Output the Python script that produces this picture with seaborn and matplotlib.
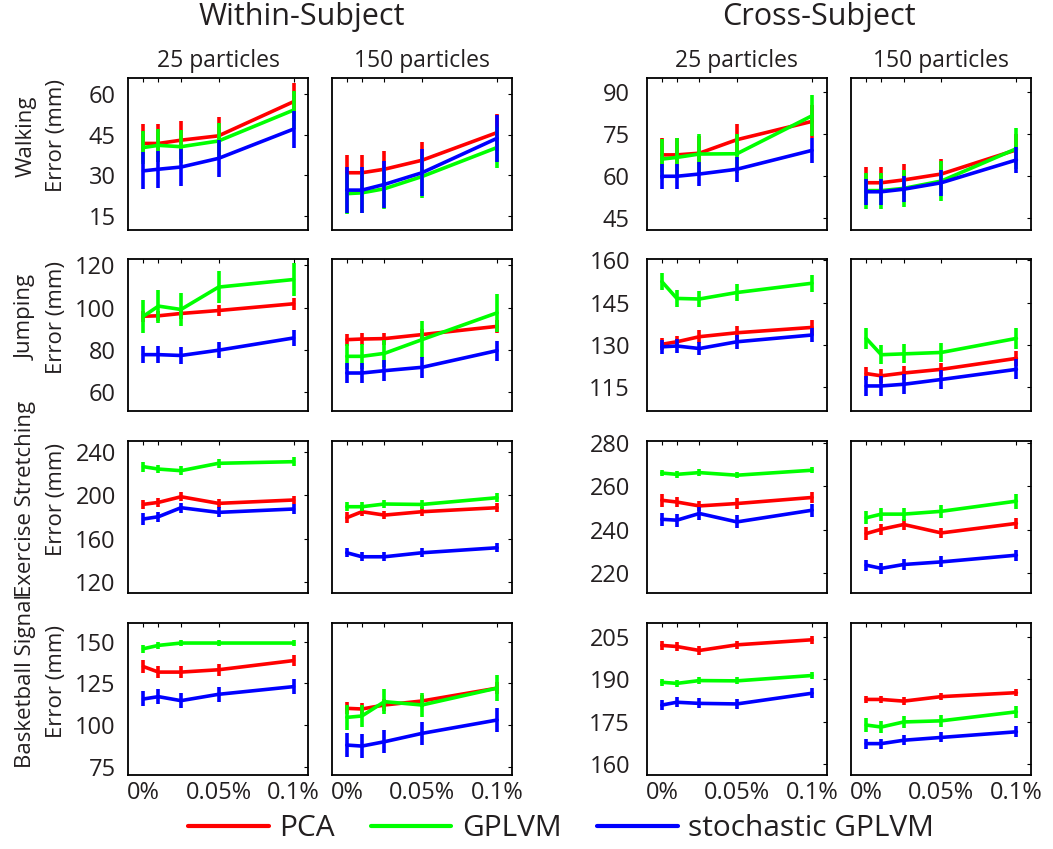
import matplotlib
matplotlib.use('Agg')
import matplotlib.pyplot as plt
from matplotlib.lines import Line2D
import seaborn as sns
import pandas as pd

# noise level (%) on the x axis
noise = [0, 0.01, 0.025, 0.05, 0.1]
methods = ['PCA', 'GPLVM', 'stochastic GPLVM']
colors = ['#ff0000', '#00ff00', '#0000ff']
activities = ['Walking', 'Jumping', 'Exercise Stretching', 'Basketball Signal']

# mean error (mm) and error bar half-length, one list per method (PCA, GPLVM, stochastic GPLVM)
# --- Walking
walk_w25 = [[41.8, 41.8, 43.0, 44.6, 57.2], [40.3, 41.1, 40.6, 42.7, 54.1], [31.7, 32.3, 33.1, 36.3, 47.1]]
walk_w25_sd = [[7.0, 7.0, 7.0, 7.0, 7.0], [6.0, 6.0, 6.0, 6.5, 7.0], [6.8, 6.8, 6.8, 6.8, 6.8]]
walk_w150 = [[31.0, 31.0, 32.3, 35.6, 45.8], [23.3, 23.6, 25.1, 29.6, 40.3], [24.6, 24.6, 26.7, 31.0, 43.7]]
walk_w150_sd = [[6.6, 6.6, 6.6, 6.6, 6.8], [7.5, 7.5, 7.5, 8.0, 7.4], [8.6, 8.6, 8.6, 8.6, 8.6]]
walk_c25 = [[67.6, 67.6, 68.2, 73.0, 79.5], [66.1, 66.7, 67.9, 68.0, 81.5], [60.0, 60.0, 60.8, 62.5, 69.2]]
walk_c25_sd = [[6.0, 6.0, 6.0, 5.7, 6.0], [7.0, 7.0, 7.0, 7.0, 7.2], [4.4, 4.4, 4.4, 4.4, 4.4]]
walk_c150 = [[57.7, 57.7, 58.7, 60.8, 69.4], [54.9, 54.9, 55.7, 58.3, 69.8], [54.5, 54.5, 55.4, 57.7, 65.8]]
walk_c150_sd = [[5.5, 5.5, 5.5, 5.5, 5.5], [6.4, 6.4, 6.5, 7.0, 7.3], [4.7, 4.7, 4.7, 4.7, 4.7]]
# --- Jumping
jump_w25 = [[95.9, 96.1, 97.2, 98.6, 101.8], [95.9, 100.7, 99.1, 109.7, 113.3], [77.7, 77.7, 77.3, 79.8, 85.6]]
jump_w25_sd = [[2.5, 2.5, 2.5, 2.5, 2.9], [7.9, 7.8, 7.9, 7.7, 8.0], [4.0, 4.0, 4.0, 3.9, 4.0]]
jump_w150 = [[84.8, 85.1, 85.3, 87.2, 91.1], [76.9, 76.9, 78.3, 84.8, 97.5], [69.0, 69.0, 70.1, 71.7, 79.6]]
jump_w150_sd = [[2.8, 2.8, 2.8, 2.8, 3.0], [6.0, 6.0, 6.5, 8.7, 9.0], [4.9, 4.9, 4.9, 5.0, 4.8]]
jump_c25 = [[130.2, 131.1, 132.9, 134.3, 136.2], [152.5, 146.5, 146.3, 148.6, 151.9], [129.3, 129.6, 128.7, 131.1, 133.5]]
jump_c25_sd = [[2.1, 2.1, 2.3, 2.5, 2.7], [3.0, 3.0, 3.0, 3.0, 3.1], [2.4, 2.4, 2.4, 2.4, 2.4]]
jump_c150 = [[119.8, 119.0, 120.0, 121.3, 125.2], [132.3, 126.5, 126.8, 127.3, 132.3], [115.4, 115.4, 116.0, 117.7, 121.3]]
jump_c150_sd = [[2.4, 2.4, 2.4, 2.4, 2.6], [3.6, 3.4, 3.4, 3.4, 3.6], [3.6, 3.6, 3.5, 3.5, 3.5]]
# --- Exercise Stretching
exer_w25 = [[191.7, 193.5, 198.7, 192.6, 195.7], [226.4, 224.2, 222.7, 229.5, 231.0], [178.2, 180.3, 188.6, 184.3, 187.4]]
exer_w25_sd = [[4.0, 4.0, 4.0, 4.0, 4.0], [4.6, 4.0, 4.0, 4.0, 4.0], [5.4, 4.5, 4.5, 4.5, 4.5]]
exer_w150 = [[179.4, 184.9, 181.8, 184.9, 188.6], [189.5, 189.5, 192.0, 191.6, 197.8], [147.1, 143.4, 143.4, 147.1, 151.7]]
exer_w150_sd = [[5.0, 4.0, 4.0, 4.0, 4.0], [4.0, 4.0, 4.0, 4.0, 4.0], [4.0, 4.0, 4.0, 4.0, 4.0]]
exer_c25 = [[253.6, 252.8, 251.0, 252.1, 254.9], [266.2, 265.6, 266.4, 265.2, 267.5], [244.8, 244.4, 247.5, 243.6, 249.0]]
exer_c25_sd = [[3.0, 2.5, 2.5, 2.5, 2.5], [1.5, 1.5, 1.5, 1.5, 1.5], [3.0, 3.0, 3.0, 3.0, 3.0]]
exer_c150 = [[238.2, 240.2, 242.4, 238.5, 242.9], [245.5, 247.2, 247.2, 248.5, 253.2], [223.6, 222.1, 223.9, 225.1, 228.2]]
exer_c150_sd = [[3.0, 2.5, 2.5, 2.5, 2.5], [3.1, 3.0, 3.0, 3.0, 3.5], [2.5, 2.5, 2.5, 2.5, 2.5]]
# --- Basketball Signal
bask_w25 = [[135.0, 131.7, 131.7, 133.1, 138.6], [145.7, 147.7, 149.1, 149.1, 149.1], [115.6, 117.0, 114.6, 118.4, 123.0]]
bask_w25_sd = [[4.0, 3.5, 3.5, 3.5, 3.5], [2.5, 2.0, 2.0, 2.0, 2.0], [4.5, 4.5, 4.5, 4.5, 4.5]]
bask_w150 = [[110.0, 109.6, 112.0, 114.4, 122.1], [104.6, 105.4, 114.0, 112.0, 122.1], [88.0, 87.4, 90.0, 95.0, 103.0]]
bask_w150_sd = [[3.5, 3.5, 3.5, 3.5, 3.5], [7.5, 6.5, 7.5, 7.0, 7.7], [7.0, 7.0, 7.0, 7.0, 7.0]]
bask_c25 = [[202.1, 201.7, 200.3, 202.3, 204.1], [189.0, 188.6, 189.6, 189.5, 191.4], [180.9, 181.9, 181.5, 181.3, 185.1]]
bask_c25_sd = [[1.5, 1.5, 1.5, 1.5, 1.5], [1.2, 1.2, 1.2, 1.2, 1.2], [1.8, 1.8, 1.8, 1.8, 1.8]]
bask_c150 = [[182.9, 182.9, 182.3, 183.9, 185.3], [173.8, 173.1, 174.9, 175.3, 178.5], [167.2, 167.2, 168.4, 169.4, 171.4]]
bask_c150_sd = [[1.3, 1.3, 1.3, 1.3, 1.3], [2.4, 2.2, 2.2, 2.2, 2.2], [1.8, 1.8, 1.8, 1.8, 2.0]]

# y ticks per row: (within-subject, cross-subject)
yticks = [([15, 30, 45, 60], [45, 60, 75, 90]),
          ([60, 80, 100, 120], [115, 130, 145, 160]),
          ([120, 160, 200, 240], [220, 240, 260, 280]),
          ([75, 100, 125, 150], [160, 175, 190, 205])]
ylims = [((10, 66), (41, 95)),
         ((51, 123), (106.5, 160.5)),
         ((110, 250), (210.7, 281)),
         ((70, 161), (156, 210))]

panels = [[(walk_w25, walk_w25_sd), (walk_w150, walk_w150_sd), (walk_c25, walk_c25_sd), (walk_c150, walk_c150_sd)],
          [(jump_w25, jump_w25_sd), (jump_w150, jump_w150_sd), (jump_c25, jump_c25_sd), (jump_c150, jump_c150_sd)],
          [(exer_w25, exer_w25_sd), (exer_w150, exer_w150_sd), (exer_c25, exer_c25_sd), (exer_c150, exer_c150_sd)],
          [(bask_w25, bask_w25_sd), (bask_w150, bask_w150_sd), (bask_c25, bask_c25_sd), (bask_c150, bask_c150_sd)]]

# long table for seaborn
rows = []
for r, act in enumerate(activities):
    for c in range(4):
        mean, sd = panels[r][c]
        for m, meth in enumerate(methods):
            for i, x in enumerate(noise):
                rows.append({'activity': act, 'panel': c, 'method': meth,
                             'noise': x, 'error': mean[m][i], 'sd': sd[m][i]})
data = pd.DataFrame(rows)

sns.set_style('white')
plt.rcParams['font.family'] = ['Open Sans', 'DejaVu Sans']
text_col = '#231f20'

fig = plt.figure(figsize=(10.53, 8.49), dpi=100)

lefts = [0.1218, 0.3150, 0.6141, 0.8082]
bottoms = [0.7294, 0.5159, 0.3015, 0.0870]
w, h = 0.171, 0.179

for r, act in enumerate(activities):
    for c in range(4):
        ax = fig.add_axes([lefts[c], bottoms[r], w, h])
        sub = data[(data.activity == act) & (data.panel == c)]
        for meth, col in zip(methods, colors):
            s = sub[sub.method == meth]
            sns.lineplot(data=s, x='noise', y='error', color=col, lw=2.6, ax=ax)
            ax.errorbar(s.noise, s.error, yerr=s.sd, fmt='none', ecolor=col,
                        elinewidth=2.6, capsize=0)
        grp = 0 if c < 2 else 1
        ax.set_ylim(*ylims[r][grp])
        ax.set_yticks(yticks[r][grp])
        ax.set_xlim(-0.0101, 0.1098)
        ax.set_xticks(noise)
        if r == 3:
            ax.set_xticklabels(['0%', '', '', '0.05%', '0.1%'])
        else:
            ax.set_xticklabels([])
        if c in (1, 3):
            ax.set_yticklabels([])
        ax.set_xlabel('')
        ax.set_ylabel('')
        ax.tick_params(direction='in', top=True, right=True, length=3, width=0.8,
                       labelsize=17, labelcolor=text_col, color='black')
        ax.tick_params(axis='y', pad=9 if c == 0 else 12)
        ax.tick_params(axis='x', pad=4)
        for sp in ax.spines.values():
            sp.set_linewidth(1.3)
            sp.set_color('black')
        if r == 0:
            ax.set_title(['25 particles', '150 particles'][c % 2], fontsize=16.5,
                         color=text_col, pad=8)
    # row label sits a little above the panel centre
    yc = bottoms[r] + h / 2 + 18 / 849
    fig.text(0.039, yc, act + '\nError (mm)', rotation=90, ha='center', va='center',
             fontsize=16, color=text_col, linespacing=1.6)

fig.text(0.287, 0.9706, 'Within-Subject', ha='center', va='baseline', fontsize=22, color=text_col)
fig.text(0.778, 0.9706, 'Cross-Subject', ha='center', va='baseline', fontsize=22, color=text_col)

handles = [Line2D([], [], color=col, lw=3) for col in colors]
fig.legend(handles, methods, ncol=3, loc='center', bbox_to_anchor=(0.533, 0.024),
           frameon=False, fontsize=21.5, handlelength=2.7, handletextpad=0.35,
           columnspacing=1.2, labelcolor=text_col)

fig.savefig('out.png', dpi=100)
